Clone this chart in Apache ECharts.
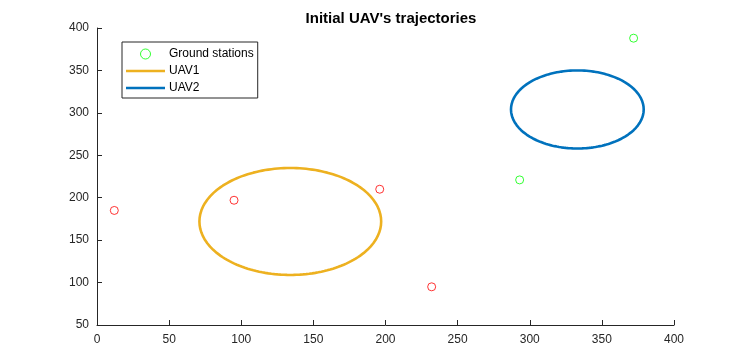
<!DOCTYPE html>
<html><head><meta charset="utf-8">
<script src="https://cdn.jsdelivr.net/npm/echarts@6/dist/echarts.min.js"></script>
<style>html,body{margin:0;padding:0;background:#fff}#c{width:746px;height:364px}</style>
</head><body><div id="c"></div>
<script>
// Data
var groundAssigned = [[293, 221], [372, 388]];           // green
var groundOther = [[12, 185], [95, 197], [196, 210], [232, 95]]; // red
var uavNames = ['UAV1', 'UAV2'];
var uavCenters = [[134, 172], [333, 304]];
var uavRadii = [63, 46];
var xTicks = [0, 400, 50];
var yTicks = [50, 400, 50];

function circlePath(c, r) {
  var pts = [];
  for (var i = 0; i <= 180; i++) {
    var t = i / 180 * 2 * Math.PI;
    pts.push([c[0] + r * Math.cos(t), c[1] + r * Math.sin(t)]);
  }
  return pts;
}
var uavColors = ['#EDB120', '#0072BD'];
var txt = '#262626';
var font = 'Liberation Sans, Arial, Helvetica, sans-serif';
var lineIcon = 'path://M0,0 L39,0 L39,2.7 L0,2.7 Z';
var chart = echarts.init(document.getElementById('c'));
var axisCommon = {
  axisLine: {show: true, onZero: false, lineStyle: {color: txt, width: 1}},
  axisTick: {show: true, inside: true, length: 5, lineStyle: {color: txt}},
  splitLine: {show: false}
};
var series = [
  {name: 'Ground stations', type: 'scatter', data: groundAssigned, symbol: 'circle', symbolSize: 8,
   itemStyle: {color: 'rgba(0,0,0,0)', borderColor: '#00FF00', borderWidth: 1}, z: 5},
  {name: 'others', type: 'scatter', data: groundOther, symbol: 'circle', symbolSize: 8,
   itemStyle: {color: 'rgba(0,0,0,0)', borderColor: '#FF0000', borderWidth: 1}, z: 5}
];
uavNames.forEach(function (n, i) {
  series.push({name: n, type: 'line', data: circlePath(uavCenters[i], uavRadii[i]), symbol: 'none',
    smooth: false, lineStyle: {color: uavColors[i], width: 2.6}, itemStyle: {color: uavColors[i]}, z: 3});
});
chart.setOption({
  animation: false,
  title: {text: "Initial UAV's trajectories", left: 386, textAlign: 'center', top: 6,
    textStyle: {fontSize: 15, fontWeight: 'bold', color: '#000', fontFamily: font}},
  grid: {left: 97, right: 72, top: 28, bottom: 39, containLabel: false},
  legend: {
    data: [{name: 'Ground stations', icon: 'circle', itemStyle: {color: 'rgba(0,0,0,0)', borderColor: '#00FF00', borderWidth: 1}},
           {name: 'UAV1', icon: lineIcon, itemStyle: {color: uavColors[0], borderWidth: 0}},
           {name: 'UAV2', icon: lineIcon, itemStyle: {color: uavColors[1], borderWidth: 0}}],
    orient: 'vertical', left: 122, top: 42, itemWidth: 39, itemHeight: 10, itemGap: 5,
    borderColor: '#262626', borderWidth: 1, borderRadius: 0, padding: [6, 4, 4, 4],
    backgroundColor: '#fff',
    textStyle: {color: '#000', fontSize: 12, fontFamily: font, padding: [0, 0, 0, -1]}
  },
  xAxis: Object.assign({type: 'value', min: xTicks[0], max: xTicks[1], interval: xTicks[2]}, axisCommon,
    {axisLabel: {color: txt, fontSize: 12, fontFamily: font, margin: 9}}),
  yAxis: Object.assign({type: 'value', min: yTicks[0], max: yTicks[1], interval: yTicks[2]}, axisCommon,
    {axisLabel: {color: txt, fontSize: 12, fontFamily: font, margin: 8}}),
  series: series
});
</script></body></html>
